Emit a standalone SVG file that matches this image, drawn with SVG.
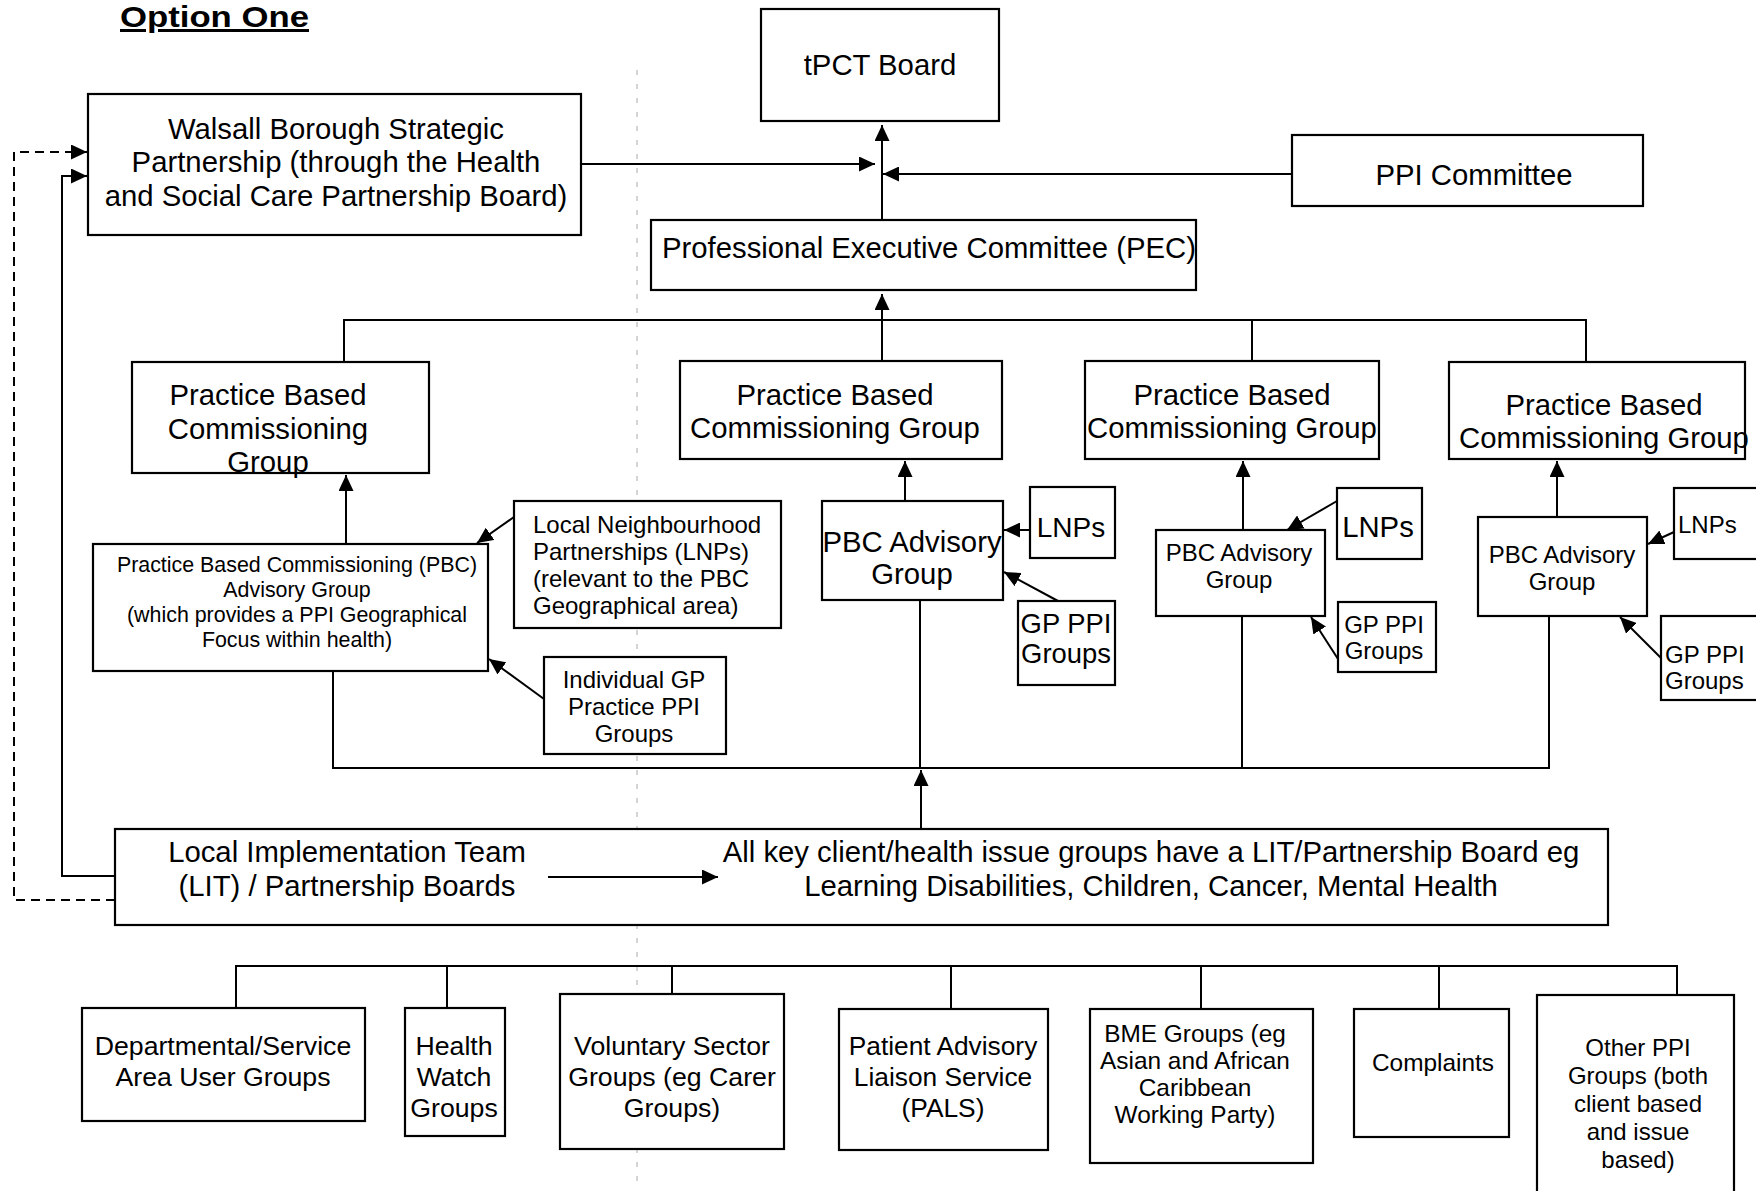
<svg xmlns="http://www.w3.org/2000/svg" width="1756" height="1191" viewBox="0 0 1756 1191">
<defs>
<style>
.b{fill:#fff;stroke:#000;stroke-width:2.2}
.t{font-family:"Liberation Sans",Arial,sans-serif;fill:#000;text-anchor:middle}
.s{text-anchor:start}
.f29{font-size:29.3px}
.f27{font-size:26.7px}
.f24{font-size:24px}
.f21{font-size:21.4px}
.c{stroke:#000;stroke-width:2;fill:none}
.a{marker-end:url(#ah)}
.d{stroke-dasharray:9 6}
.fold{stroke:#aaa;stroke-width:1;stroke-dasharray:5 9;fill:none}
</style>
<marker id="ah" markerUnits="userSpaceOnUse" markerWidth="17" markerHeight="15" refX="16" refY="7.5" orient="auto">
<path d="M0,0 L16,7.5 L0,15 z" fill="#000"/>
</marker>
</defs>
<rect width="1756" height="1191" fill="#fff"/>
<path class="fold" d="M637,70 V1185"/>
<text class="t s" x="120" y="27" font-size="30" font-weight="bold" text-decoration="underline" textLength="189" lengthAdjust="spacingAndGlyphs">Option One</text>

<g id="tpct"><rect class="b" x="761" y="9" width="238" height="112"/>
<text class="t f29" x="880" y="75">tPCT Board</text></g>

<g id="walsall"><rect class="b" x="88" y="94" width="493" height="141"/>
<text class="t f29" x="336"><tspan x="336" y="139">Walsall Borough Strategic</tspan><tspan x="336" y="172">Partnership (through the Health</tspan><tspan x="336" y="206">and Social Care Partnership Board)</tspan></text></g>

<g id="ppi"><rect class="b" x="1292" y="135" width="351" height="71"/>
<text class="t f29" x="1474" y="185">PPI Committee</text></g>

<g id="pec"><rect class="b" x="651" y="220" width="545" height="70"/>
<text class="t f29" x="929" y="258">Professional Executive Committee (PEC)</text></g>

<g id="pbc1"><rect class="b" x="132" y="362" width="297" height="111"/>
<text class="t f29"><tspan x="268" y="405">Practice Based</tspan><tspan x="268" y="438.5">Commissioning</tspan><tspan x="268" y="472">Group</tspan></text></g>

<g id="pbc2"><rect class="b" x="680" y="361" width="322" height="98"/>
<text class="t f29"><tspan x="835" y="405">Practice Based</tspan><tspan x="835" y="438">Commissioning Group</tspan></text></g>

<g id="pbc3"><rect class="b" x="1085" y="361" width="294" height="98"/>
<text class="t f29"><tspan x="1232" y="405">Practice Based</tspan><tspan x="1232" y="438">Commissioning Group</tspan></text></g>

<g id="pbc4"><rect class="b" x="1449" y="362" width="296" height="97"/>
<text class="t f29"><tspan x="1604" y="415">Practice Based</tspan><tspan x="1604" y="448">Commissioning Group</tspan></text></g>

<g id="pbcadv1"><rect class="b" x="93" y="544" width="395" height="127"/>
<text class="t f21"><tspan x="297" y="572">Practice Based Commissioning (PBC)</tspan><tspan x="297" y="597">Advisory Group</tspan><tspan x="297" y="622">(which provides a PPI Geographical</tspan><tspan x="297" y="647">Focus within health)</tspan></text></g>

<g id="lnp1"><rect class="b" x="514" y="501" width="267" height="127"/>
<text class="t s f24"><tspan x="533" y="533">Local Neighbourhood</tspan><tspan x="533" y="560">Partnerships (LNPs)</tspan><tspan x="533" y="587">(relevant to the PBC</tspan><tspan x="533" y="614">Geographical area)</tspan></text></g>

<g id="gpind"><rect class="b" x="544" y="657" width="182" height="97"/>
<text class="t f24"><tspan x="634" y="688">Individual GP</tspan><tspan x="634" y="715">Practice PPI</tspan><tspan x="634" y="742">Groups</tspan></text></g>

<g id="pbcadv2"><rect class="b" x="822" y="501" width="181" height="99"/>
<text class="t f29"><tspan x="912" y="552">PBC Advisory</tspan><tspan x="912" y="584">Group</tspan></text></g>

<g id="lnps2"><rect class="b" x="1030" y="487" width="85" height="71"/>
<text class="t" font-size="28" x="1071" y="537">LNPs</text></g>

<g id="gp2"><rect class="b" x="1018" y="601" width="97" height="84"/>
<text class="t" font-size="27.4"><tspan x="1066" y="633">GP PPI</tspan><tspan x="1066" y="663">Groups</tspan></text></g>

<g id="pbcadv3"><rect class="b" x="1156" y="530" width="169" height="86"/>
<text class="t f24"><tspan x="1239" y="561">PBC Advisory</tspan><tspan x="1239" y="588">Group</tspan></text></g>

<g id="lnps3"><rect class="b" x="1337" y="488" width="85" height="71"/>
<text class="t f29" x="1378" y="537">LNPs</text></g>

<g id="gp3"><rect class="b" x="1338" y="602" width="98" height="70"/>
<text class="t f24"><tspan x="1384" y="633">GP PPI</tspan><tspan x="1384" y="659">Groups</tspan></text></g>

<g id="pbcadv4"><rect class="b" x="1478" y="517" width="169" height="99"/>
<text class="t f24"><tspan x="1562" y="563">PBC Advisory</tspan><tspan x="1562" y="590">Group</tspan></text></g>

<g id="lnps4"><rect class="b" x="1674" y="488" width="100" height="71"/>
<text class="t s f24" x="1678" y="533">LNPs</text></g>

<g id="gp4"><rect class="b" x="1661" y="616" width="110" height="84"/>
<text class="t s f24"><tspan x="1665" y="663">GP PPI</tspan><tspan x="1665" y="689">Groups</tspan></text></g>

<g id="lit"><rect class="b" x="115" y="829" width="1493" height="96"/>
<text class="t f29"><tspan x="347" y="862">Local Implementation Team</tspan><tspan x="347" y="896">(LIT) / Partnership Boards</tspan></text>
<text class="t f29"><tspan x="1151" y="862">All key client/health issue groups have a LIT/Partnership Board eg</tspan><tspan x="1151" y="896">Learning Disabilities, Children, Cancer, Mental Health</tspan></text></g>

<g id="departmental"><rect class="b" x="82" y="1008" width="283" height="113"/>
<text class="t f27"><tspan x="223" y="1055">Departmental/Service</tspan><tspan x="223" y="1086">Area User Groups</tspan></text></g>

<g id="healthwatch"><rect class="b" x="405" y="1008" width="100" height="128"/>
<text class="t f27"><tspan x="454" y="1055">Health</tspan><tspan x="454" y="1086">Watch</tspan><tspan x="454" y="1117">Groups</tspan></text></g>

<g id="voluntary"><rect class="b" x="560" y="994" width="224" height="155"/>
<text class="t f27"><tspan x="672" y="1055">Voluntary Sector</tspan><tspan x="672" y="1086">Groups (eg Carer</tspan><tspan x="672" y="1117">Groups)</tspan></text></g>

<g id="pals"><rect class="b" x="839" y="1009" width="209" height="141"/>
<text class="t" font-size="26.3"><tspan x="943" y="1055">Patient Advisory</tspan><tspan x="943" y="1086">Liaison Service</tspan><tspan x="943" y="1117">(PALS)</tspan></text></g>

<g id="bme"><rect class="b" x="1090" y="1009" width="223" height="154"/>
<text class="t" font-size="24.4"><tspan x="1195" y="1042">BME Groups (eg</tspan><tspan x="1195" y="1069">Asian and African</tspan><tspan x="1195" y="1096">Caribbean</tspan><tspan x="1195" y="1123">Working Party)</tspan></text></g>

<g id="complaints"><rect class="b" x="1354" y="1009" width="155" height="128"/>
<text class="t" font-size="24.4" x="1433" y="1071">Complaints</text></g>

<g id="otherppi"><rect class="b" x="1537" y="995" width="197" height="210"/>
<text class="t f24"><tspan x="1638" y="1056">Other PPI</tspan><tspan x="1638" y="1084">Groups (both</tspan><tspan x="1638" y="1112">client based</tspan><tspan x="1638" y="1140">and issue</tspan><tspan x="1638" y="1168">based)</tspan></text></g>

<g id="connectors">
<path class="c a" d="M882,220 V125"/>
<path class="c a" d="M581,164 H875"/>
<path class="c a" d="M1292,174 H883"/>
<path class="c a" d="M882,361 V294"/>
<path class="c" d="M344,362 V320 H1586 V362 M1252,320 V361"/>
<path class="c a" d="M346,544 V475"/>
<path class="c a" d="M514,517 L477,543"/>
<path class="c a" d="M544,699 L489,659"/>
<path class="c a" d="M905,501 V461"/>
<path class="c a" d="M1030,530 H1004"/>
<path class="c a" d="M1058,601 L1004,572"/>
<path class="c a" d="M1243,530 V461"/>
<path class="c a" d="M1337,501 L1287,530"/>
<path class="c a" d="M1338,659 L1311,617"/>
<path class="c a" d="M1557,517 V461"/>
<path class="c a" d="M1674,532 L1648,544"/>
<path class="c a" d="M1661,658 L1620,617"/>
<path class="c" d="M333,671 V768 H1549 V616 M920,600 V768 M1242,616 V768"/>
<path class="c a" d="M921,829 V770"/>
<path class="c a" d="M548,877 H718"/>
<path class="c d a" d="M115,900 H14 V152 H87"/>
<path class="c a" d="M115,876 H62 V176 H87"/>
<path class="c" d="M236,1008 V966 H1677 V995 M447,966 V1008 M672,966 V994 M951,966 V1009 M1201,966 V1009 M1439,966 V1009"/>
</g>
</svg>
